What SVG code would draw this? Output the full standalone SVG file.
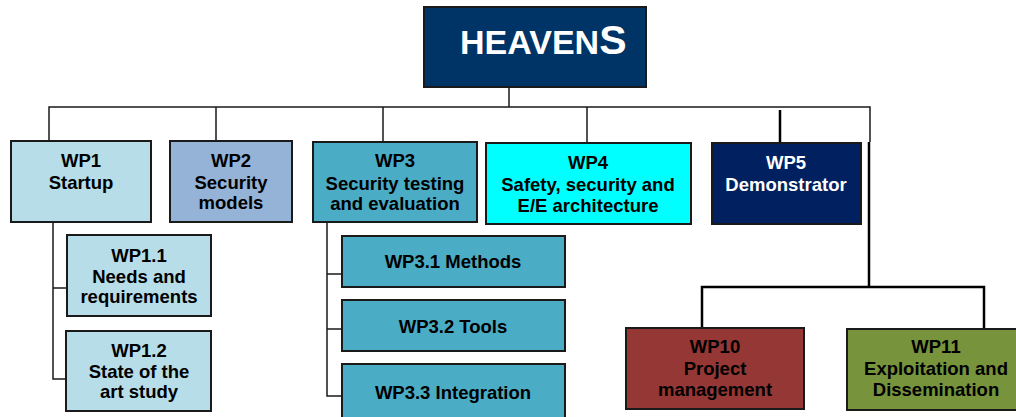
<svg xmlns="http://www.w3.org/2000/svg" width="1016" height="417" viewBox="0 0 1016 417">
<style>
  .box { stroke: #1a1a1a; stroke-width: 2; }
  .t { font-family: "Liberation Sans", Arial, sans-serif; font-weight: bold; font-size: 18.5px; text-anchor: middle; fill: #000; }
  .w { fill: #fff; }
  .c { stroke: #1a1a1a; stroke-width: 1.5; fill: none; }
  .ct { stroke: #000; stroke-width: 2.5; fill: none; }
</style>
<rect width="1016" height="417" fill="#fff"/>
<g id="connectors">
  <path class="c" d="M509,87V107M49,141V107H870V142M216,107V141M383,107V142M587,107V143"/>
  <path class="ct" d="M780,110V143" stroke-width="2"/>
  <path class="ct" d="M869,142V287M702,328V287H984V329"/>
  <path class="c" d="M53,222V379H66M53,288H67"/>
  <path class="c" d="M327,222V396H342M327,274H342M327,329H342"/>
</g>
<g id="heavens">
  <rect class="box" x="424" y="7" width="222" height="80" fill="#003366" stroke-width="1.5"/>
  <text x="460" y="54" font-family="Liberation Sans, Arial, sans-serif" font-weight="bold" font-size="34" fill="#fff">HEAVEN<tspan font-size="41">S</tspan></text>
</g>
<g id="wp1">
  <rect class="box" x="11" y="141" width="140" height="81" fill="#B7DDE8"/>
  <text class="t" x="81" y="167">WP1</text>
  <text class="t" x="81" y="189">Startup</text>
</g>
<g id="wp2">
  <rect class="box" x="170" y="141" width="122" height="81" fill="#95B3D7"/>
  <text class="t" x="231" y="167">WP2</text>
  <text class="t" x="231" y="189">Security</text>
  <text class="t" x="231" y="209">models</text>
</g>
<g id="wp3">
  <rect class="box" x="313" y="142" width="164" height="80" fill="#4BACC6"/>
  <text class="t" x="395" y="167">WP3</text>
  <text class="t" x="395" y="190">Security testing</text>
  <text class="t" x="395" y="210">and evaluation</text>
</g>
<g id="wp4">
  <rect class="box" x="486" y="143" width="205" height="81" fill="#00FFFF"/>
  <text class="t" x="588" y="169">WP4</text>
  <text class="t" x="588" y="191">Safety, security and</text>
  <text class="t" x="588" y="212">E/E architecture</text>
</g>
<g id="wp5">
  <rect class="box" x="712" y="143" width="149" height="81" fill="#002060"/>
  <text class="t w" x="786" y="169">WP5</text>
  <text class="t w" x="786" y="191">Demonstrator</text>
</g>
<g id="wp1-1">
  <rect class="box" x="67" y="235" width="144" height="81" fill="#B7DDE8"/>
  <text class="t" x="139" y="262">WP1.1</text>
  <text class="t" x="139" y="283">Needs and</text>
  <text class="t" x="139" y="303">requirements</text>
</g>
<g id="wp1-2">
  <rect class="box" x="66" y="331" width="145" height="80" fill="#B7DDE8"/>
  <text class="t" x="139" y="357">WP1.2</text>
  <text class="t" x="139" y="378">State of the</text>
  <text class="t" x="139" y="398">art study</text>
</g>
<g id="wp3-1">
  <rect class="box" x="342" y="236" width="223" height="51" fill="#4BACC6"/>
  <text class="t" x="453" y="268">WP3.1 Methods</text>
</g>
<g id="wp3-2">
  <rect class="box" x="342" y="300" width="223" height="51" fill="#4BACC6"/>
  <text class="t" x="453" y="333">WP3.2 Tools</text>
</g>
<g id="wp3-3">
  <rect class="box" x="342" y="364" width="223" height="62" fill="#4BACC6"/>
  <text class="t" x="453" y="399">WP3.3 Integration</text>
</g>
<g id="wp10">
  <rect class="box" x="626" y="328" width="178" height="81" fill="#953735"/>
  <text class="t" x="715" y="353">WP10</text>
  <text class="t" x="715" y="375">Project</text>
  <text class="t" x="715" y="396">management</text>
</g>
<g id="wp11">
  <rect class="box" x="847" y="329" width="180" height="81" fill="#77933C"/>
  <text class="t" x="936" y="353">WP11</text>
  <text class="t" x="936" y="375">Exploitation and</text>
  <text class="t" x="936" y="396">Dissemination</text>
</g>
</svg>
